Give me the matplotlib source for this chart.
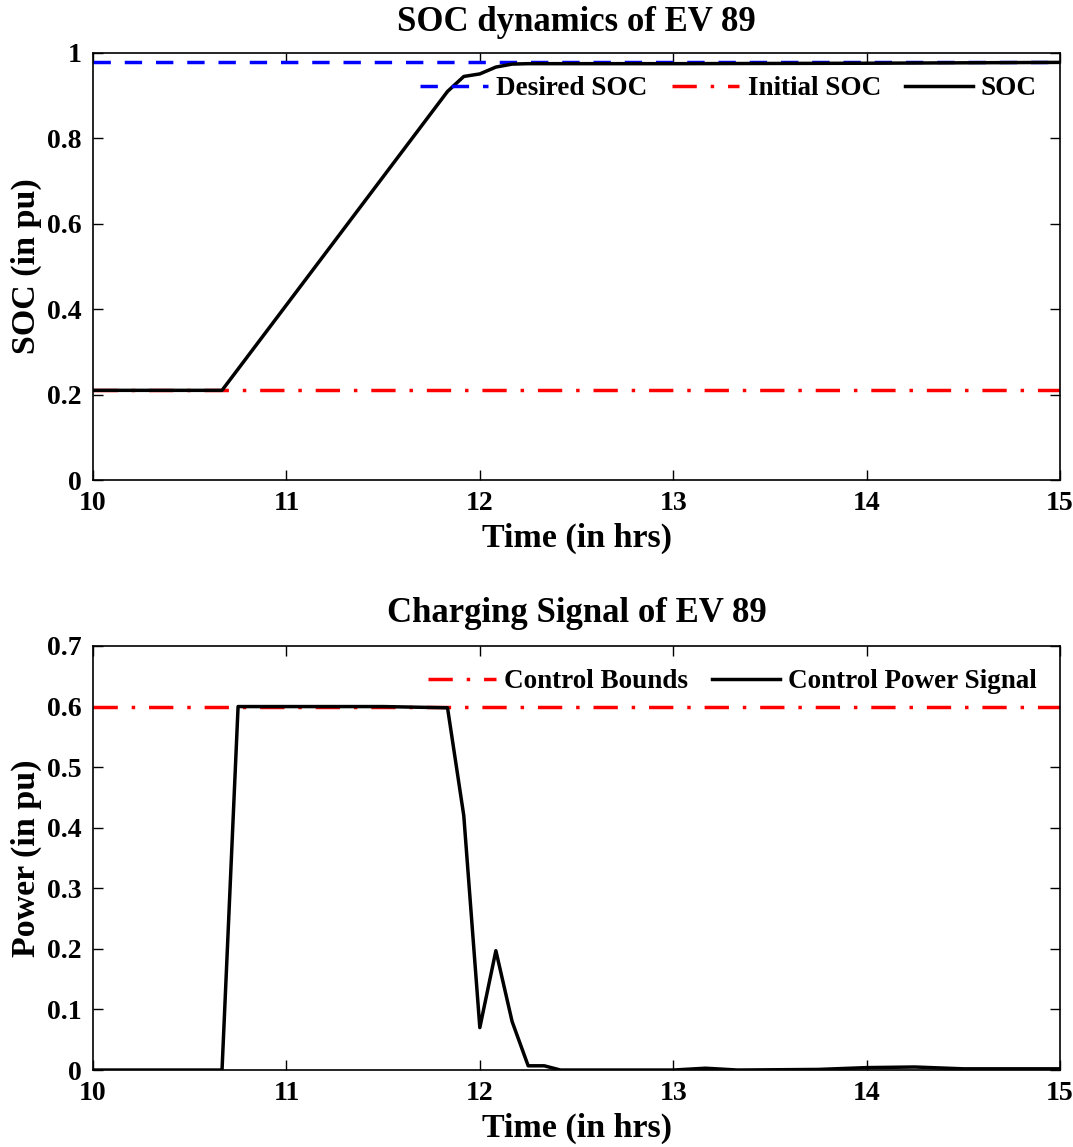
import matplotlib
matplotlib.use("Agg")
import matplotlib.pyplot as plt
from matplotlib.ticker import FixedLocator, FixedFormatter

plt.rcParams['font.family'] = ['Liberation Serif', 'DejaVu Serif']
plt.rcParams['font.weight'] = 'bold'

# ---- data ----
soc_time = [10.0, 10.667, 11.833, 11.917, 12.0, 12.083, 12.167, 12.25, 13.0, 14.0, 15.0]
soc_values = [0.21, 0.21, 0.91, 0.945, 0.951, 0.967, 0.974, 0.975, 0.975, 0.976, 0.978]
desired_soc = 0.98
initial_soc = 0.21

power_time = [10.0, 10.667, 10.75, 11.0, 11.5, 11.833, 11.917, 12.0, 12.083, 12.167,
              12.25, 12.333, 12.417, 13.0, 13.167, 13.333, 13.75, 14.0, 14.25, 14.5, 15.0]
power_values = [0.0, 0.0, 0.6, 0.6, 0.6, 0.598, 0.42, 0.07, 0.197, 0.08,
                0.007, 0.007, 0.0, 0.0, 0.003, 0.0, 0.001, 0.004, 0.005, 0.002, 0.002]
control_bound = 0.6

x_ticks = [10, 11, 12, 13, 14, 15]
soc_yticks = [0, 0.2, 0.4, 0.6, 0.8, 1.0]
soc_ylabels = ['0', '0.2', '0.4', '0.6', '0.8', '1']
pow_yticks = [0, 0.1, 0.2, 0.3, 0.4, 0.5, 0.6, 0.7]
pow_ylabels = ['0', '0.1', '0.2', '0.3', '0.4', '0.5', '0.6', '0.7']

fig = plt.figure(figsize=(10.73, 11.47), dpi=100)
ax1 = fig.add_axes([0.0867, 0.5815, 0.9012, 0.3723])
ax2 = fig.add_axes([0.0867, 0.0671, 0.9012, 0.3697])

lw = 2.5
ax1.plot([10, 15], [desired_soc, desired_soc], color='blue', ls=(0, (5, 4)), lw=lw, label='Desired SOC')
ax1.plot([10, 15], [initial_soc, initial_soc], color='red', ls=(0, (7, 4, 1, 4)), lw=lw, label='Initial SOC')
ax1.plot(soc_time, soc_values, color='black', lw=lw, label='SOC')

ax2.plot([10, 15], [control_bound, control_bound], color='red', ls=(0, (7, 4, 1, 4)), lw=lw, label='Control Bounds')
ax2.plot(power_time, power_values, color='black', lw=lw, label='Control Power Signal')

tick_fs = 20
label_fs = 24.5
title_fs = 25
leg_fs = 19.5

for ax, yt, yl, ylim in [(ax1, soc_yticks, soc_ylabels, (0, 1)), (ax2, pow_yticks, pow_ylabels, (0, 0.7))]:
    ax.set_xlim(10, 15)
    ax.set_ylim(*ylim)
    ax.xaxis.set_major_locator(FixedLocator(x_ticks))
    ax.yaxis.set_major_locator(FixedLocator(yt))
    ax.yaxis.set_major_formatter(FixedFormatter(yl))
    ax.tick_params(direction='in', top=True, right=True, length=7, width=1, labelsize=tick_fs, pad=8)
    for lab in ax.get_xticklabels() + ax.get_yticklabels():
        lab.set_fontweight('bold')
    for s in ax.spines.values():
        s.set_linewidth(1.2)
    ax.set_xlabel('Time (in hrs)', fontsize=label_fs, fontweight='bold', labelpad=5)

ax1.set_ylabel('SOC (in pu)', fontsize=label_fs, fontweight='bold', labelpad=4)
ax2.set_ylabel('Power (in pu)', fontsize=label_fs, fontweight='bold', labelpad=4)
ax1.set_title('SOC dynamics of EV 89', fontsize=title_fs, fontweight='bold', pad=16)
ax2.set_title('Charging Signal of EV 89', fontsize=title_fs, fontweight='bold', pad=17)

leg_kw = dict(loc='upper right', frameon=False, handlelength=2.5,
              handletextpad=0.3, columnspacing=0.9, borderaxespad=0.45,
              prop={'weight': 'bold', 'size': leg_fs})
ax1.legend(ncol=3, **leg_kw)
ax2.legend(ncol=2, **leg_kw)

fig.savefig('out.png', dpi=100)
